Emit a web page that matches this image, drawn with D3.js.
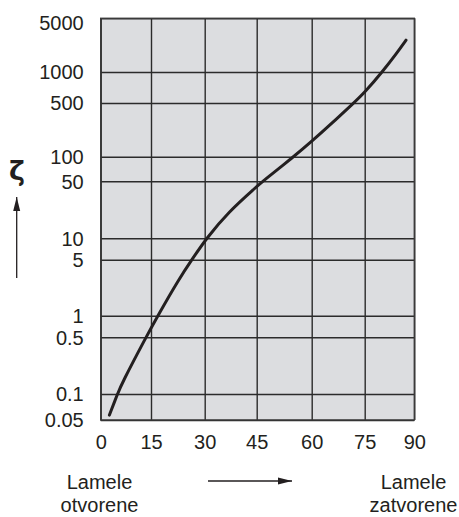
<!DOCTYPE html>
<html>
<head>
<meta charset="utf-8">
<script src="https://cdn.jsdelivr.net/npm/d3@7"></script>
<style>
  body { margin: 0; background: #fff; }
  svg { display: block; }
  .grid line { stroke: #2b2b2b; stroke-width: 1.4px; }
  .grid path { display: none; }
  .axis path, .axis line { display: none; }
  .axis text, .note { font-family: "Liberation Sans", Arial, sans-serif; font-size: 20px; fill: #231f20; }
</style>
</head>
<body>
<div id="chart"></div>
<script>
// Data
var angles = [2.6, 5, 6.3, 13.5, 16.9, 22.8, 26.4, 30.5, 36.8, 45, 46.6, 55.1, 60, 65.7, 71.9, 75, 80.3, 84.7, 87.5];
var zeta = [0.057, 0.1, 0.135, 0.5, 1, 2.87, 5, 10, 21, 43, 50, 100, 158, 272, 500, 633, 1000, 1760, 2600];
var xTicks = [0, 15, 30, 45, 60, 75, 90];
var yTicks = [0.05, 0.1, 0.5, 1, 5, 10, 50, 100, 500, 1000, 5000];

// Layout (hand-drawn axis spacing in the original)
var margins = { top: 18.3, left: 100.7 };
var chartWidth = 313.6;
var chartHeight = 401.7;
var xStops = [0, 50.3, 104, 156, 211, 264, 313.6];
var yStops = [401.7, 375.7, 319, 297.4, 241.4, 220, 163, 138.4, 84.7, 53.7, 0];

var xScale = d3.scaleLinear().domain(xTicks).range(xStops);
var yScale = d3.scaleLog().domain(yTicks).range(yStops);

var svg = d3.select("#chart")
  .append("svg")
  .attr("width", 459)
  .attr("height", 517);

var chart = svg.append("g")
  .attr("transform", "translate(" + margins.left + "," + margins.top + ")");

// Plot background
chart.append("rect")
  .attr("width", chartWidth)
  .attr("height", chartHeight)
  .attr("fill", "#dcdde0");

// Grid
chart.append("g")
  .attr("class", "grid")
  .call(d3.axisLeft(yScale).tickValues(yTicks).tickSize(-chartWidth).tickFormat(""));

chart.append("g")
  .attr("class", "grid")
  .attr("transform", "translate(0," + chartHeight + ")")
  .call(d3.axisBottom(xScale).tickValues(xTicks).tickSize(-chartHeight).tickFormat(""));

// Border
chart.append("rect")
  .attr("width", chartWidth)
  .attr("height", chartHeight)
  .attr("fill", "none")
  .attr("stroke", "#3a3a3a")
  .attr("stroke-width", 1.4);

// Axis labels
var yAxis = chart.append("g")
  .attr("class", "axis")
  .call(d3.axisLeft(yScale).tickValues(yTicks).tickSize(0).tickPadding(17)
    .tickFormat(function(d) { return String(d); }));
yAxis.selectAll("text")
  .attr("dy", function(d) { return d === 5000 ? "0.55em" : "0.34em"; });

chart.append("g")
  .attr("class", "axis")
  .attr("transform", "translate(0," + chartHeight + ")")
  .call(d3.axisBottom(xScale).tickValues(xTicks).tickSize(0).tickPadding(15));

// Curve (smoothed through the read-off points)
var line = d3.line()
  .x(function(d, i) { return xScale(angles[i]); })
  .y(function(d) { return yScale(d); })
  .curve(d3.curveBasis);

chart.append("path")
  .datum(zeta)
  .attr("d", line)
  .attr("fill", "none")
  .attr("stroke", "#231f20")
  .attr("stroke-width", 3)
  .attr("stroke-linecap", "round");

// Arrow marker
svg.append("defs").append("marker")
  .attr("id", "head")
  .attr("viewBox", "0 0 10 10")
  .attr("refX", 10)
  .attr("refY", 5)
  .attr("markerWidth", 14)
  .attr("markerHeight", 14)
  .attr("markerUnits", "userSpaceOnUse")
  .attr("orient", "auto")
  .append("path")
  .attr("d", "M0,2.5 L10,5 L0,7.5 Z")
  .attr("fill", "#231f20");

// Vertical arrow and zeta symbol
svg.append("line")
  .attr("x1", 16.7).attr("x2", 16.7)
  .attr("y1", 278).attr("y2", 197)
  .attr("stroke", "#231f20")
  .attr("stroke-width", 1.3)
  .attr("marker-end", "url(#head)");

svg.append("text")
  .attr("x", 17)
  .attr("y", 180)
  .attr("text-anchor", "middle")
  .style("font-family", "DejaVu Sans, sans-serif")
  .style("font-size", "27px")
  .style("font-weight", "bold")
  .attr("fill", "#231f20")
  .text("ζ");

// Horizontal arrow
svg.append("line")
  .attr("x1", 208).attr("x2", 292)
  .attr("y1", 481).attr("y2", 481)
  .attr("stroke", "#231f20")
  .attr("stroke-width", 1.3)
  .attr("marker-end", "url(#head)");

// Bottom notes
var notes = [
  { x: 99.5, y: 489, t: "Lamele" },
  { x: 99.5, y: 512, t: "otvorene" },
  { x: 413.5, y: 489, t: "Lamele" },
  { x: 413.5, y: 512, t: "zatvorene" }
];
svg.selectAll(".note")
  .data(notes)
  .enter()
  .append("text")
  .attr("class", "note")
  .attr("x", function(d) { return d.x; })
  .attr("y", function(d) { return d.y; })
  .attr("text-anchor", "middle")
  .text(function(d) { return d.t; });
</script>
</body>
</html>
